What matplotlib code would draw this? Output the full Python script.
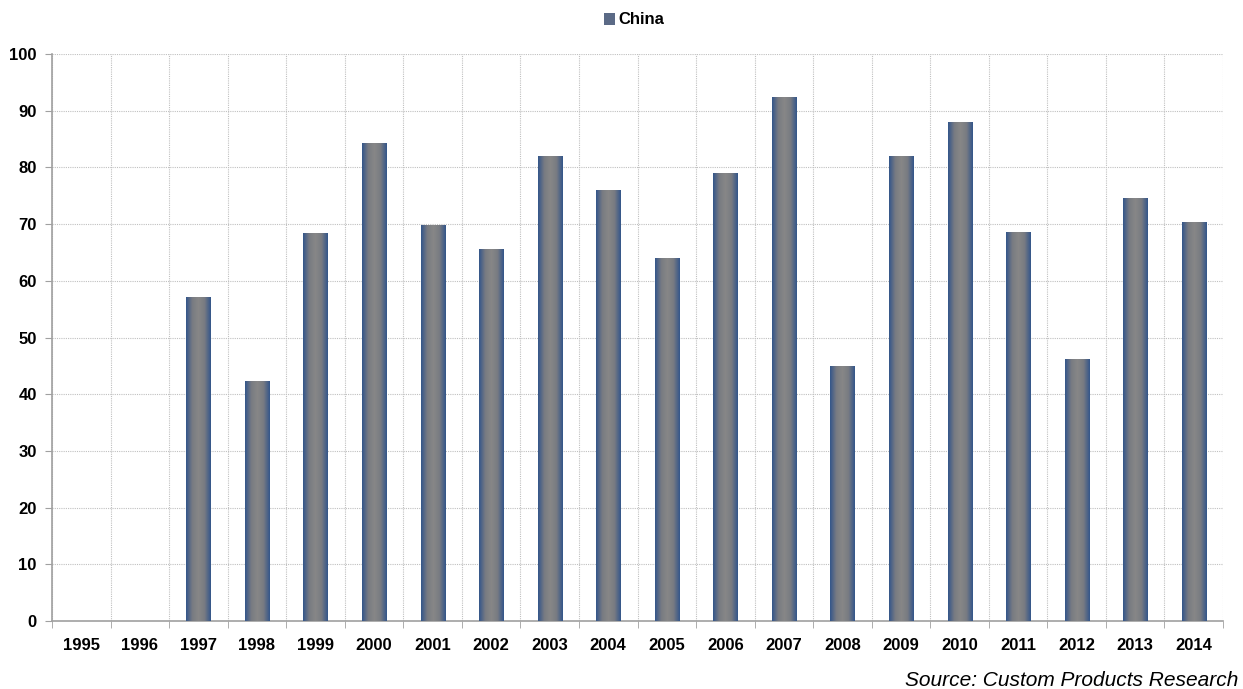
import matplotlib.pyplot as plt
import numpy as np
from matplotlib.colors import LinearSegmentedColormap
from matplotlib.patches import Patch

years = [str(y) for y in range(1995, 2015)]
china = [0, 0, 57.1, 42.2, 68.3, 84.3, 69.8, 65.6, 82.0, 76.0,
         64.0, 79.0, 92.4, 44.8, 82.0, 88.0, 68.6, 46.2, 74.6, 70.2]

plt.rcParams['font.family'] = ['Liberation Sans', 'DejaVu Sans']

fig = plt.figure(figsize=(12.43, 6.89), dpi=100)
ax = fig.add_axes([52 / 1243, 1 - 621 / 689, (1223 - 52) / 1243, (621 - 54) / 689])

grad = LinearSegmentedColormap.from_list("bar", ["#34568a", "#787b82", "#878787", "#787b82", "#34568a"])
strip = np.linspace(0, 1, 64).reshape(1, -1)
width = 0.41

x = np.arange(len(years))
for xi, v in zip(x, china):
    if v <= 0:
        continue
    ax.imshow(strip, cmap=grad, aspect='auto', interpolation='bilinear',
              extent=(xi - width / 2, xi + width / 2, 0, v), zorder=3)

ax.set_xlim(-0.5, len(years) - 0.5)
ax.set_ylim(0, 100)
ax.set_yticks(range(0, 101, 10))
ax.set_xticks(x)
ax.set_xticklabels(years)
ax.set_xticks(np.arange(-0.5, len(years), 1), minor=True)

ax.grid(axis='y', which='major', color='#c0c0c0', linestyle=(0, (1, 1)), linewidth=0.8, zorder=0)
ax.grid(axis='x', which='minor', color='#c0c0c0', linestyle=(0, (1, 1)), linewidth=0.8, zorder=0)
ax.tick_params(axis='x', which='major', length=0, pad=12, labelsize=12)
ax.tick_params(axis='x', which='minor', length=5, color='#a0a0a0')
ax.tick_params(axis='y', length=5, color='#a0a0a0', pad=6, labelsize=12)
for lab in ax.get_xticklabels() + ax.get_yticklabels():
    lab.set_fontweight('bold')

for side in ['top', 'right']:
    ax.spines[side].set_visible(False)
for side in ['left', 'bottom']:
    ax.spines[side].set_color('#a0a0a0')
    ax.spines[side].set_linewidth(1.2)

handle = Patch(facecolor='#5b6a86', edgecolor='none', label='China')
fig.legend(handles=[handle], loc='center', bbox_to_anchor=(634 / 1243, 1 - 20 / 689),
           frameon=False, prop={'weight': 'bold', 'size': 12},
           handlelength=0.7, handleheight=0.7, handletextpad=0.2)

fig.text(1238 / 1243, 1 - 681 / 689, "Source: Custom Products Research",
         ha='right', va='center', style='italic', fontsize=15)

fig.savefig("out.png", dpi=100)
